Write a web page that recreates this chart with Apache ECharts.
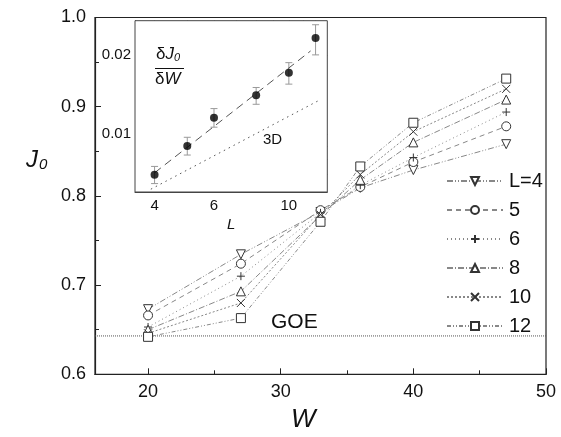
<!DOCTYPE html>
<html>
<head>
<meta charset="utf-8">
<script src="https://cdn.jsdelivr.net/npm/echarts@6/dist/echarts.min.js"></script>
<style>
  html, body { margin: 0; padding: 0; background: #fff; }
  #chart { width: 561px; height: 437px; }
</style>
</head>
<body>
<div id="chart"></div>
<script>
// main plot: J0 versus W for several L
const W = [20, 27, 33, 36, 40, 47];
const L4 = [0.673, 0.7345, 0.782, 0.809, 0.829, 0.858];
const L5 = [0.666, 0.724, 0.784, 0.810, 0.838, 0.878];
const L6 = [0.653, 0.710, 0.781, 0.812, 0.843, 0.894];
const L8 = [0.650, 0.693, 0.778, 0.818, 0.860, 0.908];
const L10 = [0.646, 0.680, 0.779, 0.824, 0.872, 0.920];
const L12 = [0.642, 0.663, 0.771, 0.833, 0.882, 0.9315];
const GOE = 0.643;

const xMajor = [20, 30, 40, 50];
const xMinor = [25, 35, 45];

// inset: dJ0/dW versus L (log-log)
const insetL = [4, 5, 6, 8, 10, 12];
const slope = [0.00698, 0.00899, 0.01152, 0.01404, 0.01710, 0.02318];
const slopeLow = [0.00646, 0.0083, 0.0106, 0.01296, 0.01547, 0.0200];
const slopeHigh = [0.00751, 0.0097, 0.01248, 0.01502, 0.01868, 0.02606];
const fitLine = [[4, 0.0071], [11.6, 0.0207]];
const line3D = [[3.9, 0.00615], [12.4, 0.0135]];
const insetXLabels = [4, 6, 10];
const insetXTicks = [4, 5, 6, 7, 8, 9, 10, 11, 12];
const insetYLabels = [0.01, 0.02];
const insetYTicks = [0.007, 0.008, 0.009, 0.01, 0.02];

const chart = echarts.init(document.getElementById("chart"));
const font = "Liberation Sans, Arial, sans-serif";

const plus = "path://M5,0L5,10M0,5L10,5";
const cross = "path://M0,0L10,10M10,0L0,10";

const curves = [
  { name: "L=4", y: L4, symbol: "triangle", rotate: 180, dash: [6, 2, 1, 2, 1, 2] },
  { name: "5", y: L5, symbol: "circle", rotate: 0, dash: [5, 4] },
  { name: "6", y: L6, symbol: "plus", rotate: 0, dash: [1, 3] },
  { name: "8", y: L8, symbol: "triangle", rotate: 0, dash: [6, 2, 1, 2] },
  { name: "10", y: L10, symbol: "cross", rotate: 0, dash: [2, 2] },
  { name: "12", y: L12, symbol: "rect", rotate: 0, dash: [4, 2, 1, 2, 1, 2] }
];

function symbolOf(s) {
  if (s === "plus") return plus;
  if (s === "cross") return cross;
  return s;
}

const mainSeries = curves.map(c => ({
  name: c.name,
  type: "line",
  xAxisIndex: 0,
  yAxisIndex: 0,
  data: W.map((w, i) => [w, c.y[i]]),
  symbol: symbolOf(c.symbol),
  symbolRotate: c.rotate,
  symbolSize: c.symbol === "plus" || c.symbol === "cross" ? 8 : 9,
  showAllSymbol: true,
  lineStyle: { color: "#888", width: 1, type: c.dash },
  itemStyle: { color: "#fff", borderColor: "#333", borderWidth: 1 },
  emphasis: { disabled: true },
  z: 3
}));

chart.setOption({
  animation: false,
  textStyle: { fontFamily: font },
  grid: [
    { left: 95, right: 15, top: 17.5, bottom: 62.7, show: true, borderColor: "#222", borderWidth: 1.2 },
    { left: 135, right: 233.7, top: 20.7, bottom: 245, show: true, borderColor: "#444", borderWidth: 1, backgroundColor: "#fff", z: 5 }
  ],
  legend: {
    orient: "vertical",
    left: 441,
    top: 166,
    itemWidth: 56,
    itemHeight: 10,
    itemGap: 9,
    data: curves.map(c => c.name),
    textStyle: { fontSize: 20, color: "#111", fontFamily: font, padding: [0, 0, 0, 1] }
  },
  xAxis: [
    {
      gridIndex: 0, type: "value", min: 16, max: 50,
      axisLine: { lineStyle: { color: "#222", width: 1.2 } },
      axisTick: { inside: true, length: 6, customValues: xMajor, lineStyle: { color: "#222" } },
      axisLabel: { customValues: xMajor, fontSize: 18, color: "#111", margin: 9 },
      splitLine: { show: false }
    },
    {
      gridIndex: 0, type: "value", min: 16, max: 50, position: "bottom",
      axisLine: { show: false },
      axisTick: { inside: true, length: 4, customValues: xMinor, lineStyle: { color: "#222" } },
      axisLabel: { show: false },
      splitLine: { show: false }
    },
    {
      gridIndex: 1, type: "log", min: 3.5, max: 13,
      axisLine: { lineStyle: { color: "#444" } },
      axisTick: { inside: true, length: 4, customValues: insetXTicks, lineStyle: { color: "#444" } },
      axisLabel: { customValues: insetXLabels, fontSize: 15, color: "#111", margin: 6 },
      minorTick: { show: false },
      splitLine: { show: false },
      name: "L", nameLocation: "middle", nameGap: 25,
      nameTextStyle: { fontSize: 15, fontStyle: "italic", color: "#111" }
    },
    {
      gridIndex: 1, type: "log", min: 3.5, max: 13, position: "top",
      axisLine: { show: false },
      axisTick: { inside: true, length: 3, customValues: insetXTicks, lineStyle: { color: "#444" } },
      axisLabel: { show: false },
      splitLine: { show: false }
    }
  ],
  yAxis: [
    {
      gridIndex: 0, type: "value", min: 0.6, max: 1.0, interval: 0.1,
      axisLine: { lineStyle: { color: "#222", width: 1.2 } },
      axisTick: { inside: true, length: 6, lineStyle: { color: "#222" } },
      minorTick: { show: true, splitNumber: 2, length: 4, lineStyle: { color: "#222" } },
      axisLabel: { fontSize: 18, color: "#111", margin: 9, formatter: v => v.toFixed(1) },
      splitLine: { show: false }
    },
    {
      gridIndex: 1, type: "log", min: 0.006, max: 0.027,
      axisLine: { lineStyle: { color: "#444" } },
      axisTick: { inside: true, length: 4, customValues: insetYTicks, lineStyle: { color: "#444" } },
      axisLabel: { customValues: insetYLabels, fontSize: 15, color: "#111", margin: 4, formatter: v => String(Math.round(v * 100) / 100) },
      splitLine: { show: false }
    },
    {
      gridIndex: 1, type: "log", min: 0.006, max: 0.027, position: "right",
      axisLine: { show: false },
      axisTick: { inside: true, length: 4, customValues: insetYTicks, lineStyle: { color: "#444" } },
      axisLabel: { show: false },
      splitLine: { show: false }
    }
  ],
  graphic: [
    { type: "text", left: 271, top: 312, style: { text: "GOE", fontSize: 21, fill: "#111", fontFamily: font } },
    { type: "text", left: 291, top: 407, style: { text: "W", fontSize: 26, fontStyle: "italic", fill: "#111", fontFamily: font } },
    {
      type: "text", left: 26, top: 148,
      style: {
        text: "{a|J}{b|0}", fontFamily: font,
        rich: {
          a: { fontSize: 24, fontStyle: "italic", fill: "#111", fontFamily: font },
          b: { fontSize: 15, fontStyle: "italic", fill: "#111", fontFamily: font, padding: [10, 0, 0, 1] }
        }
      }
    },
    { type: "text", left: 263, top: 132, z: 10, style: { text: "3D", fontSize: 15, fill: "#111", fontFamily: font } },
    {
      type: "text", left: 156, top: 46, z: 10,
      style: {
        text: "{a|δ}{j|J}{b|0}", fontFamily: font,
        rich: {
          a: { fontSize: 17, fill: "#111", fontFamily: font },
          j: { fontSize: 17, fontStyle: "italic", fill: "#111", fontFamily: font },
          b: { fontSize: 11, fontStyle: "italic", fill: "#111", fontFamily: font, padding: [7, 0, 0, 0] }
        }
      }
    },
    { type: "line", z: 10, shape: { x1: 155, y1: 68.5, x2: 184, y2: 68.5 }, style: { stroke: "#111", lineWidth: 1 } },
    {
      type: "text", left: 155, top: 71, z: 10,
      style: {
        text: "{a|δ}{c|W}", fontFamily: font,
        rich: {
          a: { fontSize: 17, fill: "#111", fontFamily: font },
          c: { fontSize: 17, fontStyle: "italic", fill: "#111", fontFamily: font }
        }
      }
    }
  ],
  series: mainSeries.concat([
    {
      name: "GOE", type: "line", xAxisIndex: 0, yAxisIndex: 0,
      data: [[16, GOE], [50, GOE]], symbol: "none",
      lineStyle: { color: "#555", width: 1, type: [1, 1] }, z: 2
    },
    {
      name: "fit", type: "line", xAxisIndex: 2, yAxisIndex: 1,
      data: fitLine, symbol: "none",
      lineStyle: { color: "#555", width: 1, type: [8, 5] }, z: 10
    },
    {
      name: "3D", type: "line", xAxisIndex: 2, yAxisIndex: 1,
      data: line3D, symbol: "none",
      lineStyle: { color: "#555", width: 1, type: [1.5, 4] }, z: 10
    },
    {
      name: "err", type: "custom", xAxisIndex: 2, yAxisIndex: 1, z: 10,
      data: insetL.map((l, i) => [l, slopeLow[i], slopeHigh[i]]),
      renderItem: (params, api) => {
        const lo = api.coord([api.value(0), api.value(1)]);
        const hi = api.coord([api.value(0), api.value(2)]);
        const st = { stroke: "#999", lineWidth: 1 };
        return {
          type: "group",
          children: [
            { type: "line", shape: { x1: lo[0], y1: lo[1], x2: hi[0], y2: hi[1] }, style: st },
            { type: "line", shape: { x1: lo[0] - 3.5, y1: lo[1], x2: lo[0] + 3.5, y2: lo[1] }, style: st },
            { type: "line", shape: { x1: hi[0] - 3.5, y1: hi[1], x2: hi[0] + 3.5, y2: hi[1] }, style: st }
          ]
        };
      }
    },
    {
      name: "slope", type: "scatter", xAxisIndex: 2, yAxisIndex: 1, z: 11,
      data: insetL.map((l, i) => [l, slope[i]]),
      symbolSize: 8, itemStyle: { color: "#000" }
    }
  ])
});
</script>
</body>
</html>
